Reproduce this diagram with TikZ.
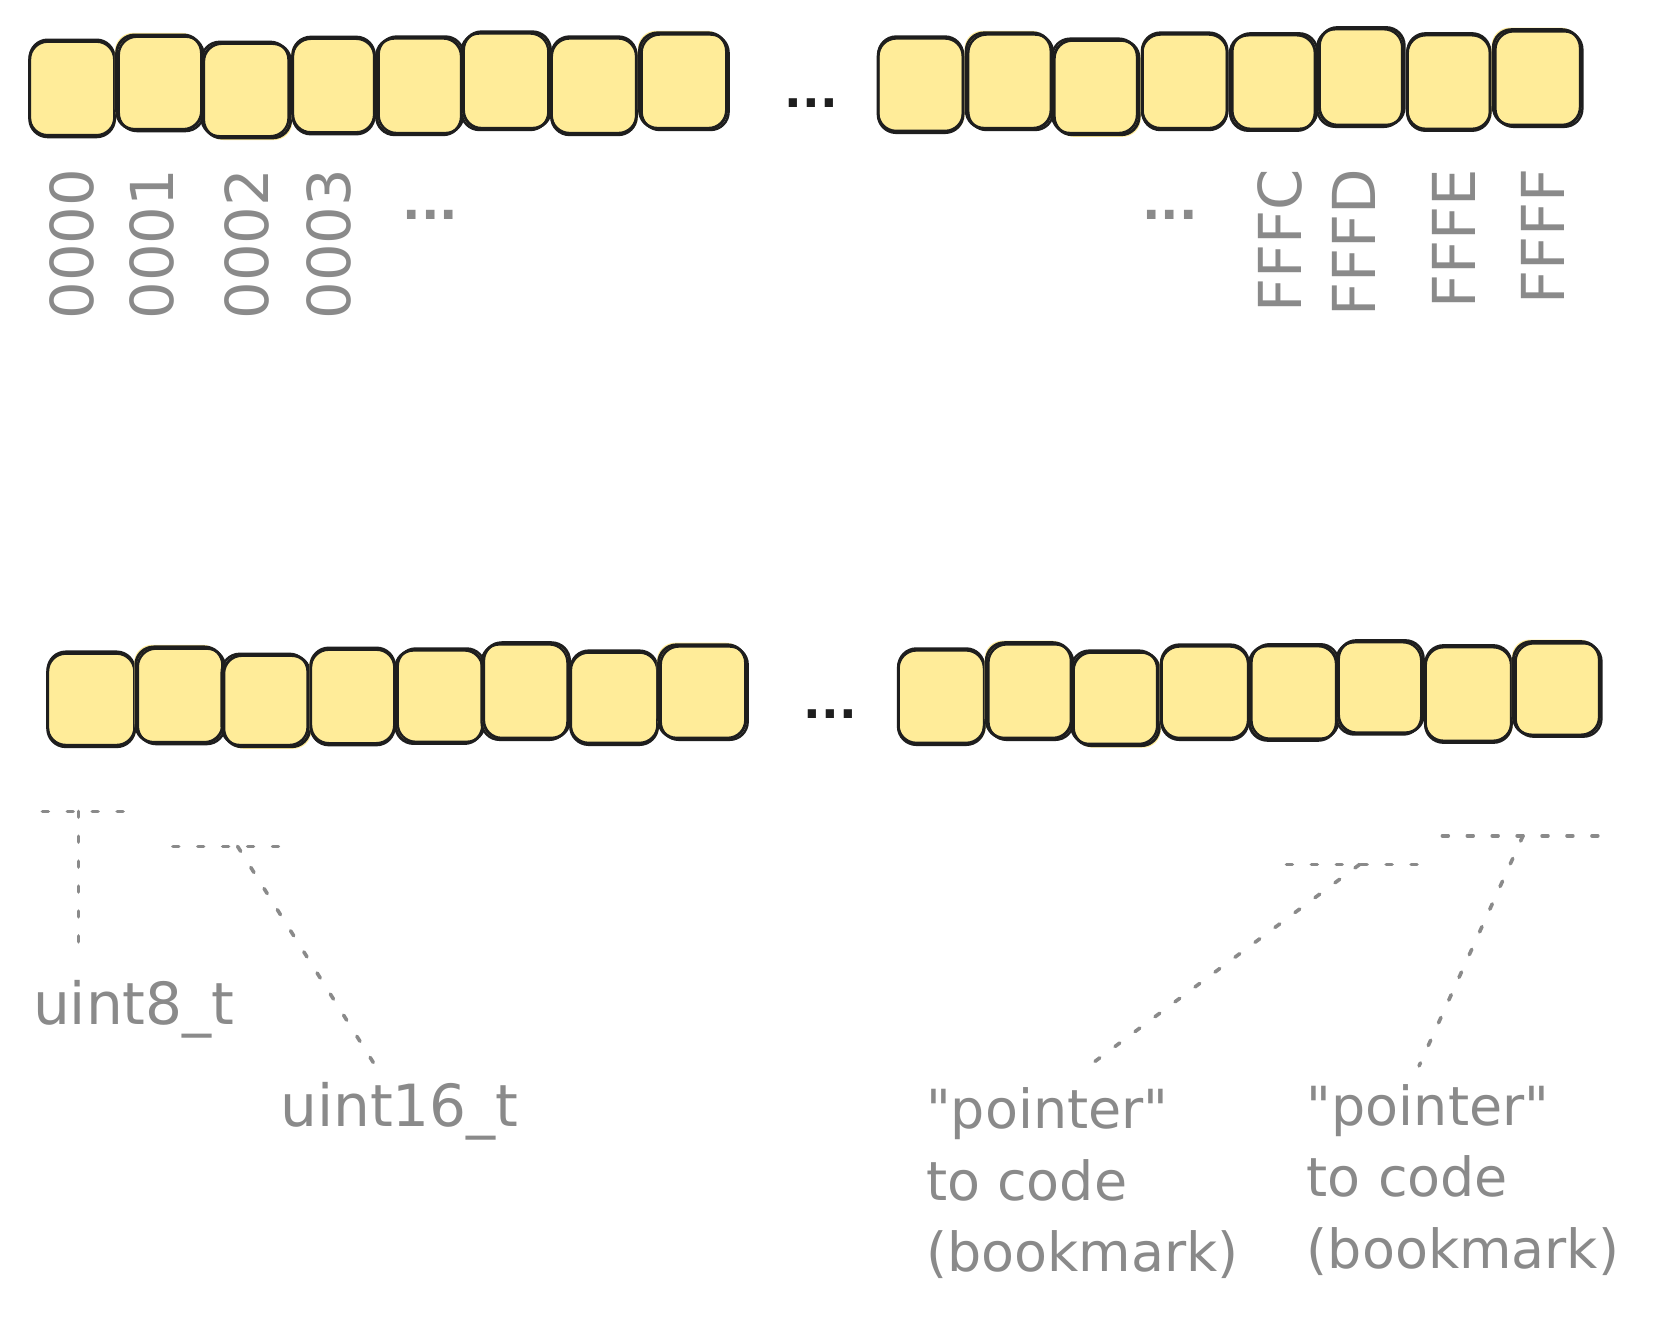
\documentclass[tikz,border=0pt]{standalone}
\usepackage{fontspec}
\setmainfont{DejaVu Sans}
\usetikzlibrary{calc}
\definecolor{cellfill}{HTML}{FFEC99}
\definecolor{ink}{HTML}{1E1E1E}
\definecolor{txtgray}{HTML}{8A8A8A}
\newcommand\cellrow[2]{%
  \foreach \qi/\qa/\qb/\qc/\qd in {#2} {%
    \pgfmathsetmacro\qw{\qb-\qa}%
    \pgfmathsetmacro\qh{\qd-\qc}%
    \pgfmathsetmacro\qx{2.0*(mod(\qi,3)-1)}%
    \pgfmathsetmacro\qy{1.6*(2*mod(\qi,2)-1)}%
    \node[cell, minimum width=\qw bp, minimum height=\qh bp,
      preaction={fill=cellfill, transform canvas={shift={(\qy bp,\qx bp)}}},
      postaction={draw=ink, line width=2.2bp, transform canvas={shift={(\qx bp,\qy bp)}}}]
      (#1\qi) at ({(\qa+\qb)/2},{(\qc+\qd)/2}) {};
  }%
}
\begin{document}
\begin{tikzpicture}[x=1bp,y=-1bp,
  cell/.style={draw=ink, fill=cellfill, line width=2.8bp, rounded corners=17bp, inner sep=0pt, line join=round},
  lbl/.style={text=txtgray, inner sep=0pt, font=\fontsize{51}{68}\selectfont},
  ulbl/.style={text=txtgray, inner sep=0pt, font=\fontsize{55}{68}\selectfont},
  addr/.style={text=txtgray, inner sep=0pt, font=\fontsize{56}{60}\selectfont, rotate=90, anchor=east},
  gdots/.style={text=txtgray, inner sep=0pt, font=\fontsize{46}{46}\selectfont\bfseries},
  bdots/.style={text=ink, inner sep=0pt, font=\fontsize{44}{44}\selectfont\bfseries},
  dl/.style={draw=txtgray, line width=3.4bp, line cap=round, dash pattern=on 5.5bp off 18bp}
]
\path[use as bounding box] (0,0) rectangle (1568,1252);
\fill[white] (0,0) rectangle (1568,1252);

% top row
\cellrow{tl}{1/28/108/39/129, 2/110/190/33/122, 3/192/274/41/130, 4/276/353/35/125, 5/355/435/36/127, 6/437/519/30/121, 7/520/600/36/127, 8/603/685/31/121}
\cellrow{tr}{1/828/908/36/125, 2/911/991/31/121, 3/994/1074/38/127, 4/1077/1157/31/121, 5/1160/1240/33/123, 6/1244/1324/26/118, 7/1327/1405/33/123, 8/1408/1490/28/118}
% bottom row
\cellrow{bl}{1/45/127/616/704, 2/128/210/610/700, 3/211/292/618/704, 4/293/372/611/701, 5/373/455/613/701, 6/456/537/606/696, 7/538/620/615/702, 8/621/703/608/696}
\cellrow{br}{1/847/928/613/702, 2/930/1010/606/696, 3/1012/1093/615/703, 4/1095/1177/608/696, 5/1178/1260/609/698, 6/1262/1342/604/691, 7/1344/1425/610/700, 8/1427/1508/605/693}

\node[bdots] (bd1) at (765,97) {...};
\node[bdots] (bd2) at (783,673) {...};

% address labels
\node[addr] (a0) at (68,159) {0000};
\node[addr] (a1) at (143,159) {0001};
\node[addr] (a2) at (233,159) {0002};
\node[addr] (a3) at (310,159) {0003};
\node[gdots] (gd1) at (406,203) {...};
\node[gdots] (gd2) at (1103,203) {...};
\node[addr] (aC) at (1207,159) {FFFC};
\node[addr] (aD) at (1277,159) {FFFD};
\node[addr] (aE) at (1371,159) {FFFE};
\node[addr] (aF) at (1455,159) {FFFF};

% bottom labels
\node[ulbl, anchor=base west] (u8) at (31,966) {uint8\_t};
\node[ulbl, anchor=base west] (u16) at (264,1062) {uint16\_t};
\node[lbl, anchor=north west, align=left] (p1) at (873,1025) {\textquotedbl pointer\textquotedbl\\to code\\(bookmark)};
\node[lbl, anchor=north west, align=left] (p2) at (1232,1022) {\textquotedbl pointer\textquotedbl\\to code\\(bookmark)};

% brackets and leader lines
\coordinate (b1a) at (40,765);  \coordinate (b1b) at (122,765); \coordinate (b1m) at (74,765);
\coordinate (e1) at (74,892);
\coordinate (b2a) at (163,798); \coordinate (b2b) at (268,798); \coordinate (b2m) at (224,798);
\coordinate (e2) at (354,1005);
\coordinate (b3a) at (1213,815); \coordinate (b3b) at (1340,815); \coordinate (b3m) at (1282,815);
\coordinate (e3) at (1020,1010);
\coordinate (b4a) at (1360,788); \coordinate (b4b) at (1512,788); \coordinate (b4m) at (1436,788);
\coordinate (e4) at (1338,1005);

\draw[dl] (b1a) -- (b1b);
\draw[dl] (b1m) -- (e1);
\draw[dl] (b2a) -- (b2b);
\draw[dl] (b2m) -- (e2);
\draw[dl] (b3a) -- (b3b);
\draw[dl] (b3m) -- (e3);
\draw[dl] (b4a) -- (b4b);
\draw[dl] (b4m) -- (e4);
\end{tikzpicture}
\end{document}
